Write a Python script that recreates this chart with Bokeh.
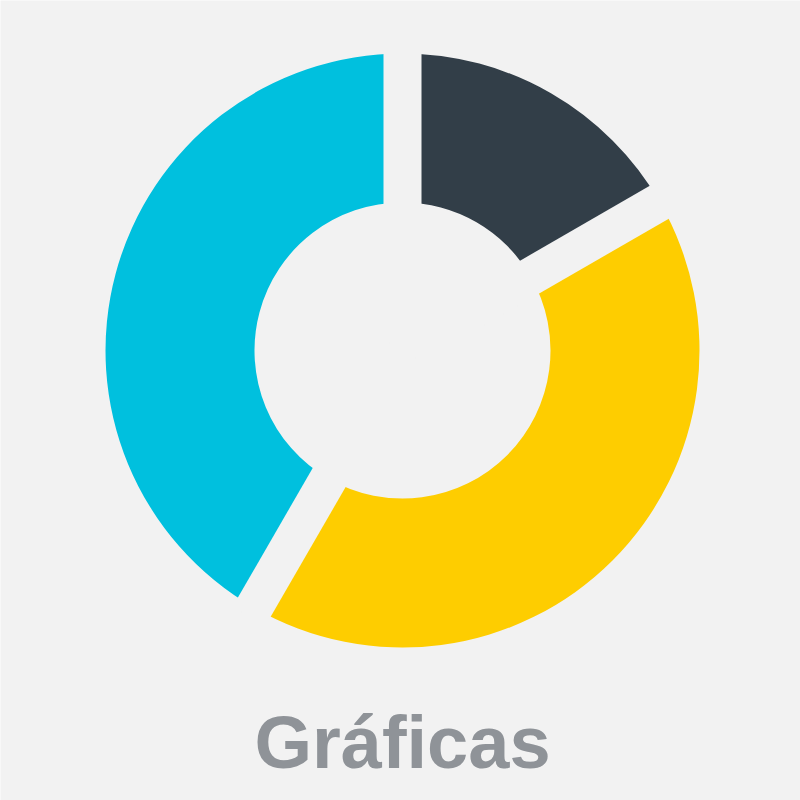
import math
from bokeh.plotting import figure
from bokeh.models import ColumnDataSource, Range1d
from bokeh.core.properties import value
from bokeh.embed import file_html
from bokeh.resources import INLINE

# data
categories = ["Serie A", "Serie B", "Serie C"]
values = [2, 5, 5]
colors = ["#323e48", "#fecd00", "#00c0de"]
title_text = "Gráficas"

BG = "#f2f2f2"
CX, CY = 402, 450  # centre in plot units (y up)
R_OUT, R_IN = 297, 148
GAP = 38  # px

# angles: start at top, go clockwise
total = sum(values)
starts, ends = [], []
a = math.pi / 2
for v in values:
    span = 2 * math.pi * v / total
    starts.append(a - span)
    ends.append(a)
    a -= span

src = ColumnDataSource(data={
    "cat": categories,
    "start": starts,
    "end": ends,
    "color": colors,
})

p = figure(
    width=800, height=800,
    x_range=Range1d(0, 800), y_range=Range1d(0, 800),
    output_backend="svg", toolbar_location=None,
    min_border=0, background_fill_color=BG, border_fill_color=BG,
)
p.axis.visible = False
p.grid.visible = False
p.outline_line_color = None

p.annular_wedge(x=CX, y=CY, inner_radius=R_IN, outer_radius=R_OUT,
                start_angle="start", end_angle="end", direction="anticlock",
                color="color", line_color=None, source=src)

# gaps between slices
p.ray(x=CX, y=CY, angle=ends, length=R_OUT + 10, line_width=GAP,
      line_color=BG, line_cap="butt")

p.text(x=[CX], y=[800 - 742], text=[title_text],
       text_font=value("Liberation Sans"), text_font_style="bold",
       text_font_size="74px", text_color="#8f9398",
       text_align="center", text_baseline="alphabetic")

open("out.html", "w").write(file_html(p, INLINE))
